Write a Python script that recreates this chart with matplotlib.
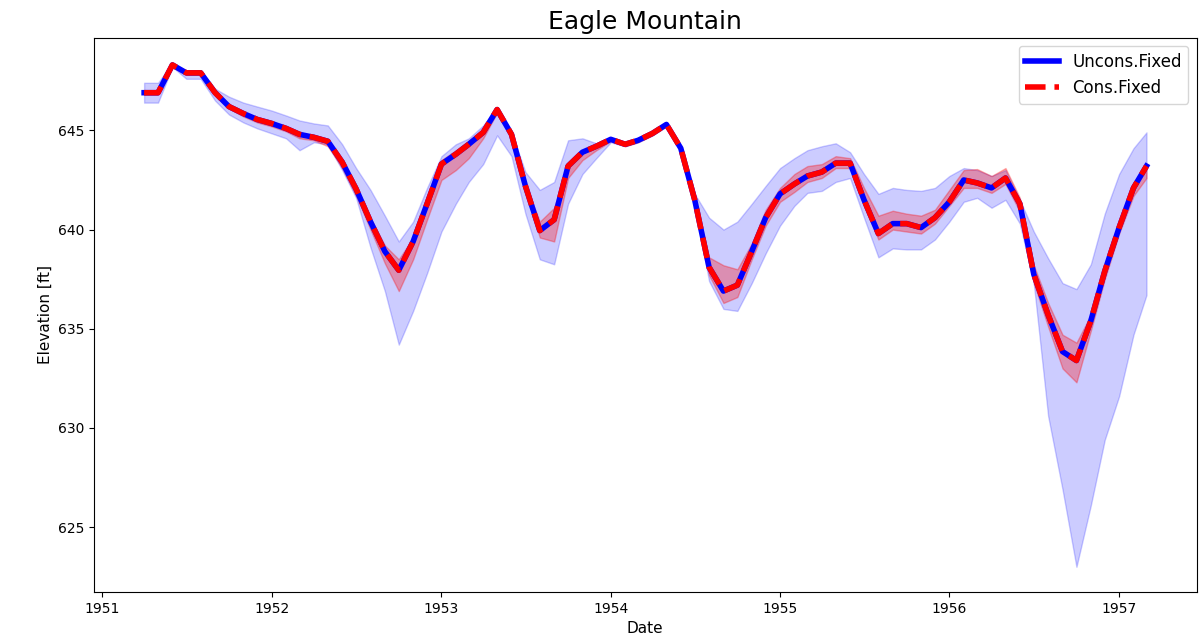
import matplotlib
matplotlib.use("Agg")
import matplotlib.pyplot as plt
import numpy as np
import pandas as pd

# monthly elevation, Apr 1951 - Mar 1957
dates = pd.date_range("1951-04-01", "1957-03-01", freq="MS")

elev = [646.9, 646.9, 648.3, 647.9, 647.9, 646.9, 646.2, 645.85, 645.55, 645.35, 645.1, 644.8,
        644.65, 644.45, 643.4, 642.05, 640.4, 638.9, 637.95, 639.4, 641.3, 643.3, 643.8, 644.3,
        644.9, 646.05, 644.8, 642.2, 639.95, 640.5, 643.2, 643.9, 644.2, 644.55, 644.3, 644.5,
        644.85, 645.3, 644.1, 641.5, 638.1, 636.9, 637.2, 638.9, 640.6, 641.8, 642.3, 642.7,
        642.9, 643.35, 643.35, 641.5, 639.8, 640.3, 640.3, 640.1, 640.6, 641.4, 642.5, 642.35,
        642.1, 642.6, 641.3, 637.75, 635.7, 633.85, 633.4, 635.4, 637.9, 640.1, 642.1, 643.2]

uncons_lo = [646.4, 646.4, 648.2, 647.6, 647.6, 646.5, 645.8, 645.4, 645.1, 644.85, 644.6, 644.0,
             644.4, 644.3, 643.0, 641.6, 639.1, 636.9, 634.2, 635.9, 637.8, 639.9, 641.3, 642.4,
             643.3, 644.75, 643.7, 640.8, 638.5, 638.25, 641.3, 642.8, 643.6, 644.4, 644.2, 644.4,
             644.75, 645.2, 643.95, 641.2, 637.4, 636.0, 635.9, 637.3, 638.8, 640.2, 641.2, 641.85,
             641.95, 642.4, 642.6, 640.6, 638.6, 639.05, 639.0, 639.0, 639.5, 640.4, 641.4, 641.6,
             641.1, 641.5, 640.3, 637.3, 630.6, 626.9, 623.0, 626.1, 629.4, 631.6, 634.7, 636.7]

uncons_hi = [647.4, 647.4, 648.4, 648.0, 648.0, 647.1, 646.7, 646.4, 646.2, 646.0, 645.75, 645.5,
             645.35, 645.25, 644.3, 643.1, 642.0, 640.7, 639.4, 640.4, 642.1, 643.7, 644.3, 644.6,
             645.25, 646.15, 644.9, 642.9, 642.0, 642.4, 644.5, 644.6, 644.35, 644.65, 644.4, 644.6,
             644.95, 645.4, 644.2, 641.8, 640.6, 640.0, 640.4, 641.3, 642.2, 643.1, 643.6, 644.0,
             644.2, 644.35, 643.9, 642.8, 641.8, 642.1, 642.0, 641.95, 642.1, 642.7, 643.1, 643.0,
             642.7, 643.0, 641.5, 639.9, 638.55, 637.3, 637.0, 638.25, 640.8, 642.8, 644.1, 644.9]

cons_lo = [646.8, 646.8, 648.2, 647.8, 647.8, 646.8, 646.1, 645.7, 645.4, 645.2, 644.95, 644.6,
           644.5, 644.2, 643.1, 641.7, 640.0, 638.3, 636.9, 638.5, 640.5, 642.5, 643.0, 643.6,
           644.6, 645.9, 644.7, 642.0, 639.6, 639.4, 642.6, 643.5, 644.0, 644.45, 644.2, 644.4,
           644.75, 645.2, 644.0, 641.35, 637.7, 636.3, 636.6, 638.5, 640.2, 641.4, 641.9, 642.4,
           642.6, 643.1, 643.1, 641.2, 639.5, 640.0, 639.9, 639.8, 640.3, 641.2, 642.1, 642.1,
           641.85, 642.3, 640.9, 637.3, 635.1, 633.0, 632.3, 634.9, 637.5, 639.8, 641.7, 642.6]

cons_hi = [647.0, 647.0, 648.35, 648.0, 648.0, 647.0, 646.3, 645.9, 645.65, 645.45, 645.2, 644.9,
           644.75, 644.55, 643.5, 642.2, 640.6, 639.2, 638.5, 639.6, 641.5, 643.5, 644.0, 644.5,
           645.0, 646.1, 644.9, 642.3, 640.4, 641.1, 643.3, 644.0, 644.3, 644.6, 644.35, 644.6,
           644.9, 645.35, 644.15, 641.6, 638.6, 638.2, 638.0, 639.3, 641.0, 642.1, 642.8, 643.2,
           643.3, 643.7, 643.6, 642.1, 640.7, 640.95, 640.8, 640.7, 641.0, 642.0, 643.0, 643.05,
           642.7, 643.1, 641.6, 638.2, 636.3, 634.7, 634.3, 635.7, 638.1, 640.3, 642.3, 643.3]

fig = plt.figure(figsize=(11.99, 6.43), dpi=100)
ax = fig.add_axes([0.0784, 0.0793, 0.9196, 0.862])

ax.fill_between(dates, uncons_lo, uncons_hi, color='blue', alpha=0.2)
ax.fill_between(dates, cons_lo, cons_hi, color='red', alpha=0.3)
ax.plot(dates, elev, color='blue', lw=4, label='Uncons.Fixed')
ax.plot(dates, elev, color='red', lw=4, ls='--', label='Cons.Fixed')

ax.set_title('Eagle Mountain', fontsize=18)
ax.set_xlabel('Date', fontsize=11)
ax.set_ylabel('Elevation [ft]', fontsize=11)
ax.legend(loc='upper right', fontsize=12)

fig.savefig('out.png', dpi=100)
